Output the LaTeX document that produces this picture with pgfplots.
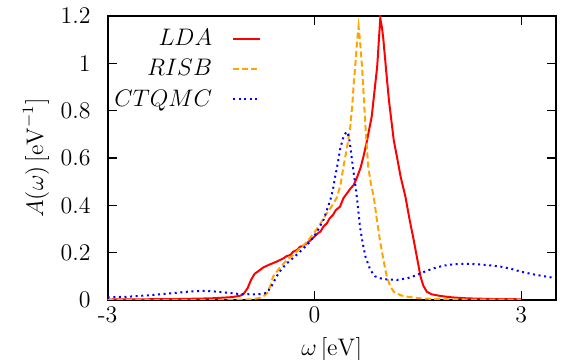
\documentclass[border=0pt]{standalone}
\usepackage{pgfplots}
\pgfplotsset{compat=1.18}
\definecolor{gporange}{RGB}{255,165,0}
\begin{document}
\begin{tikzpicture}[font=\fontsize{12}{14.4}\selectfont]
\begin{axis}[
  name=ax,
  scale only axis,
  width=224bp, height=142bp,
  xmin=-3, xmax=3.5, ymin=0, ymax=1.2,
  xtick={-3,0,3}, xticklabels={-3,0,3},
  ytick={0,0.2,0.4,0.6,0.8,1,1.2},
  yticklabels={0,0.2,0.4,0.6,0.8,1,1.2},
  tick align=inside,
  xtick pos=both, ytick pos=both,
  major tick length=4.5bp,
  axis line style={line width=0.9pt},
  every tick/.style={black, line width=0.6pt},
  yticklabel style={xshift=-5bp},
  xlabel={$\omega\,[\mathrm{eV}]$},
  ylabel={$A(\omega)\,[\mathrm{eV}^{-1}]$},
  every axis y label/.style={at={(axis description cs:-0.16,0.5)}, rotate=90, anchor=center},
  legend style={at={(-0.008,0.983)}, anchor=north west, draw=none, fill=none,
    row sep=1.5bp, font=\fontsize{13}{15.6}\selectfont,
    /tikz/every odd column/.append style={column sep=8bp}},
  legend cell align=right,
  legend plot pos=right,
  legend image code/.code={\draw[#1] (0bp,0bp) -- (13.5bp,0bp);},
]
\addplot[red, line width=1pt] coordinates {
(-3,0.002) (-2.5,0.003) (-2,0.004) (-1.5,0.007) (-1.2,0.012) (-1.08,0.018) (-1.03,0.025) (-0.97,0.05) (-0.92,0.085) (-0.87,0.11) (-0.8,0.125) (-0.74,0.138) (-0.65,0.15) (-0.55,0.162) (-0.45,0.176) (-0.4,0.186)(-0.35,0.19)(-0.31,0.204)(-0.25,0.212) (-0.21,0.225)(-0.17,0.228) (-0.11,0.24)(-0.06,0.252) (0,0.268) (0.05,0.282)(0.09,0.29)(0.13,0.31)(0.18,0.324)(0.22,0.345)(0.27,0.36)(0.31,0.38)(0.37,0.394)(0.42,0.43)(0.47,0.45)(0.52,0.47)(0.57,0.486)(0.62,0.52)(0.67,0.56)(0.71,0.605)(0.76,0.67)(0.8,0.73)(0.83,0.774)(0.87,0.88)(0.91,0.986)(0.935,1.1)(0.955,1.19)(0.98,1.15)(1.0,1.10)(1.04,0.97)(1.08,0.845)(1.15,0.676)(1.2,0.6)(1.25,0.521)(1.32,0.436)(1.38,0.34)(1.44,0.253)(1.54,0.098)(1.58,0.06)(1.63,0.035)(1.7,0.024)(1.83,0.017)(2.0,0.011)(2.21,0.007)(2.6,0.004)(3.0,0.003)
};
\addlegendentry{$LDA$}
\addplot[gporange, line width=1pt, dash pattern=on 3bp off 1.6bp] coordinates {
(-3,0.001)(-2,0.001)(-1.2,0.001)(-0.9,0.003)(-0.78,0.01)(-0.72,0.02)(-0.69,0.028)(-0.64,0.06)(-0.6,0.099)(-0.55,0.118)(-0.5,0.138)(-0.4,0.169)(-0.31,0.19)(-0.21,0.218)(-0.11,0.245)(-0.01,0.282)(0.08,0.32)(0.18,0.366)(0.26,0.4)(0.33,0.436)(0.38,0.49)(0.42,0.563)(0.47,0.64)(0.52,0.732)(0.55,0.83)(0.57,0.915)(0.6,1.02)(0.62,1.10)(0.64,1.155)(0.665,1.08)(0.69,0.986)(0.715,0.86)(0.74,0.732)(0.78,0.563)(0.82,0.49)(0.86,0.436)(0.9,0.35)(0.95,0.253)(1.0,0.17)(1.05,0.098)(1.1,0.058)(1.15,0.035)(1.25,0.02)(1.34,0.014)(1.5,0.008)(1.73,0.004)(2.2,0.002)(3.0,0.001)
};
\addlegendentry{$RISB$}
\addplot[blue, line width=1pt, dash pattern=on 1bp off 1.8bp] coordinates {
(-3,0.011)(-2.7,0.014)(-2.4,0.02)(-2.1,0.028)(-1.8,0.036)(-1.61,0.039)(-1.45,0.036)(-1.27,0.031)(-1.08,0.025)(-0.9,0.024)(-0.79,0.025)(-0.69,0.03)(-0.62,0.06)(-0.55,0.099)(-0.48,0.13)(-0.4,0.155)(-0.3,0.18)(-0.21,0.204)(-0.1,0.235)(-0.01,0.267)(0.06,0.3)(0.13,0.338)(0.18,0.38)(0.23,0.422)(0.27,0.47)(0.30,0.521)(0.34,0.58)(0.37,0.634)(0.41,0.68)(0.45,0.704)(0.47,0.711)(0.5,0.69)(0.52,0.648)(0.545,0.59)(0.57,0.535)(0.6,0.47)(0.62,0.422)(0.66,0.31)(0.7,0.24)(0.74,0.183)(0.81,0.127)(0.88,0.1)(0.95,0.092)(1.05,0.087)(1.2,0.085)(1.35,0.092)(1.49,0.106)(1.6,0.12)(1.73,0.134)(1.87,0.145)(2.02,0.151)(2.2,0.153)(2.36,0.151)(2.5,0.148)(2.7,0.141)(2.85,0.132)(2.99,0.12)(3.2,0.107)(3.5,0.092)
};
\addlegendentry{$CTQMC$}
\end{axis}
\pgfresetboundingbox
\path ([shift={(-53.85bp,-30bp)}]ax.south west) rectangle ([shift={(9.15bp,8bp)}]ax.north east);
\end{tikzpicture}
\end{document}
